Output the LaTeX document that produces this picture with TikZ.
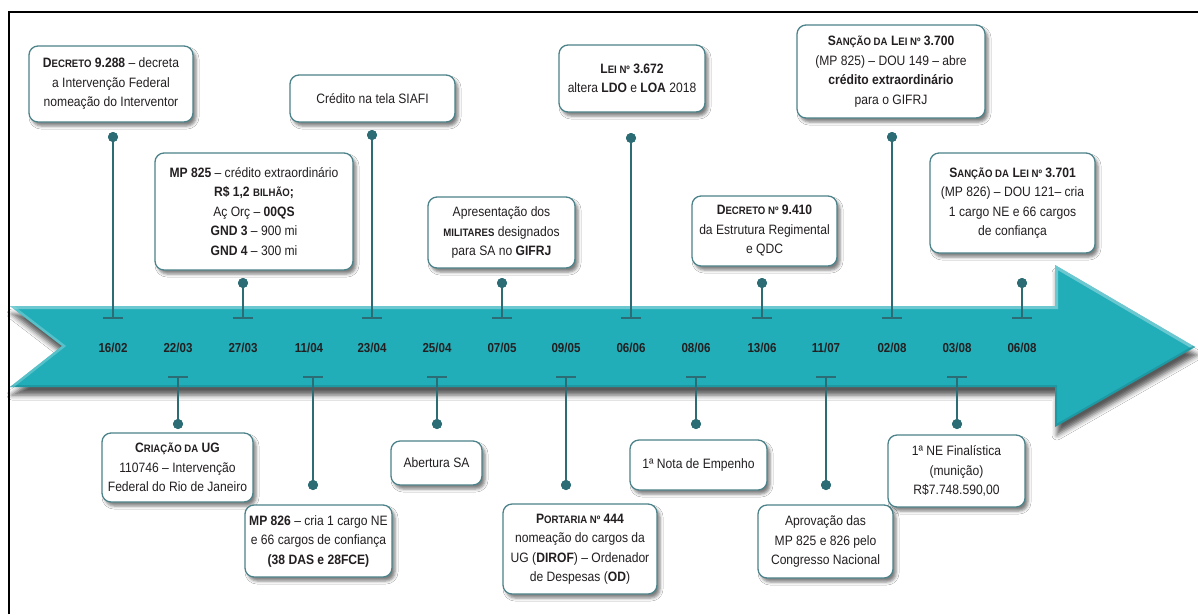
\documentclass[tikz,border=0pt]{standalone}
\usepackage{fontspec}
\setmainfont{Liberation Sans}[FakeStretch=0.89]
\usetikzlibrary{shadows.blur}

\definecolor{band}{RGB}{34,174,185}
\definecolor{bandlight}{RGB}{140,212,218}
\definecolor{banddark}{RGB}{22,128,138}
\definecolor{stemc}{RGB}{44,108,117}
\definecolor{boxline}{RGB}{76,130,137}
\definecolor{ink}{RGB}{35,31,32}

% faked small capitals: first letter full size, the rest reduced
\newcommand\smc[2]{#1{\fontsize{10.8}{12}\selectfont #2}}
\newcommand\boxfont{\fontsize{13.6}{19.5}\selectfont}
\newcommand\datefont{\fontsize{13}{14}\selectfont\bfseries}

\tikzset{
  evbox/.style={draw=boxline, line width=1.3pt, rounded corners=9pt, fill=white,
    align=center, inner sep=2pt, text=ink, font=\boxfont,
    blur shadow={shadow xshift=3pt, shadow yshift=-4pt, shadow blur radius=3pt,
      shadow opacity=50}},
  stemline/.style={draw=stemc, line width=2.4pt},
  tbar/.style={draw=stemc, line width=2.4pt},
  stemdot/.style={circle, fill=stemc, inner sep=0pt, minimum size=10pt},
  datelbl/.style={font=\datefont, text=ink, inner sep=0pt},
}

\begin{document}
\begin{tikzpicture}[x=1pt, y=-1pt]
\useasboundingbox (0,0) rectangle (1198,614);
\fill[white] (0,0) rectangle (1198,614);

% frame lines
\draw[line width=2pt, black] (9,614) -- (9,12) -- (1198,12);

% timeline arrow
\fill[band, blur shadow={shadow xshift=2pt, shadow yshift=-8pt, shadow blur radius=5pt, shadow opacity=65}]
  (10,306) -- (1055,306) -- (1055,265) -- (1195,347) -- (1055,427) -- (1055,387)
  -- (10,387) -- (62,346) -- cycle;
\begin{scope}
  \clip (10,306) -- (1055,306) -- (1055,265) -- (1195,347) -- (1055,427) -- (1055,387)
    -- (10,387) -- (62,346) -- cycle;
  \draw[bandlight, line width=6pt, opacity=0.7] (10,306) -- (1055,306) -- (1055,265) -- (1195,347);
  \draw[banddark, line width=4pt, opacity=0.45] (1195,347) -- (1055,427) -- (1055,387) -- (10,387);
  \draw[bandlight, line width=5pt, opacity=0.5] (10,306) -- (62,346) -- (10,387);
\end{scope}

% dates along the band
\node[datelbl] (d1)  at (113,348) {16/02};
\node[datelbl] (d2)  at (178,348) {22/03};
\node[datelbl] (d3)  at (243,348) {27/03};
\node[datelbl] (d4)  at (309,348) {11/04};
\node[datelbl] (d5)  at (372,348) {23/04};
\node[datelbl] (d6)  at (437,348) {25/04};
\node[datelbl] (d7)  at (502,348) {07/05};
\node[datelbl] (d8)  at (566,348) {09/05};
\node[datelbl] (d9)  at (631,348) {06/06};
\node[datelbl] (d10) at (696,348) {08/06};
\node[datelbl] (d11) at (762,348) {13/06};
\node[datelbl] (d12) at (826,348) {11/07};
\node[datelbl] (d13) at (892,348) {02/08};
\node[datelbl] (d14) at (957,348) {03/08};
\node[datelbl] (d15) at (1022,348) {06/08};

% tick anchors on the band (upper at 318, lower at 377)
\foreach \n/\x/\y in {1/113/318, 3/243/318, 5/372/318, 7/502/318, 9/631/318,
                      11/762/318, 13/892/318, 15/1022/318,
                      2/178/377, 4/313/377, 6/437/377, 8/566/377, 10/696/377,
                      12/826/377, 14/957/377}
  \coordinate (t\n) at (\x,\y);

% stem dots
\node[stemdot] (p1)  at (113,137) {};
\node[stemdot] (p3)  at (243,283) {};
\node[stemdot] (p5)  at (372,135) {};
\node[stemdot] (p7)  at (502,283) {};
\node[stemdot] (p9)  at (631,138) {};
\node[stemdot] (p11) at (762,283) {};
\node[stemdot] (p13) at (892,137) {};
\node[stemdot] (p15) at (1022,283) {};
\node[stemdot] (p2)  at (178,424) {};
\node[stemdot] (p4)  at (313,485) {};
\node[stemdot] (p6)  at (437,424) {};
\node[stemdot] (p8)  at (566,485) {};
\node[stemdot] (p10) at (696,424) {};
\node[stemdot] (p12) at (826,485) {};
\node[stemdot] (p14) at (957,424) {};

% stems with their T bars
\foreach \n in {1,...,15}{
  \draw[stemline] (p\n.center) -- (t\n);
  \draw[tbar] ([xshift=-10pt]t\n) -- ([xshift=10pt]t\n);
}
% redraw dots above stems
\foreach \n/\x/\y in {1/113/137, 3/243/283, 5/372/135, 7/502/283, 9/631/138,
                      11/762/283, 13/892/137, 15/1022/283,
                      2/178/424, 4/313/485, 6/437/424, 8/566/485, 10/696/424,
                      12/826/485, 14/957/424}
  \fill[stemc] (\x,\y) circle (5pt);

% event boxes above the band
\node[evbox, minimum width=164pt, minimum height=76pt] (b1) at (111,84)
  {\textbf{\smc{D}{ECRETO} 9.288} – decreta\\a Intervenção Federal\\nomeação do Interventor};
\node[evbox, minimum width=198pt, minimum height=117pt] (b3) at (254,211.5)
  {\textbf{MP 825} – crédito extraordinário\\\textbf{R\$ 1,2 \smc{}{BILHÃO};}\\Aç Orç – \textbf{00QS}\\\textbf{GND 3} – 900 mi\\\textbf{GND 4} – 300 mi};
\node[evbox, minimum width=165pt, minimum height=47pt] (b5) at (372.5,98.5)
  {Crédito na tela SIAFI};
\node[evbox, minimum width=147pt, minimum height=71pt] (b7) at (501.5,232.5)
  {Apresentação dos\\\textbf{\smc{}{MILITARES}} designados\\para SA no \textbf{GIFRJ}};
\node[evbox, minimum width=146pt, minimum height=67pt] (b9) at (632,78.5)
  {\textbf{\smc{L}{EI Nº} 3.672}\\altera \textbf{LDO} e \textbf{LOA} 2018};
\node[evbox, minimum width=145pt, minimum height=70pt] (b11) at (764.5,231)
  {\textbf{\smc{D}{ECRETO Nº} 9.410}\\da Estrutura Regimental\\e QDC};
\node[evbox, minimum width=188pt, minimum height=93pt] (b13) at (891,71.5)
  {\textbf{\smc{S}{ANÇÃO DA} \smc{L}{EI Nº} 3.700}\\(MP 825) – DOU 149 – abre\\\textbf{crédito extraordinário}\\para o GIFRJ};
\node[evbox, minimum width=165pt, minimum height=100pt] (b15) at (1012.5,203)
  {\textbf{\smc{S}{ANÇÃO DA} \smc{L}{EI Nº} 3.701}\\(MP 826) – DOU 121– cria\\1 cargo NE e 66 cargos\\de confiança};

% event boxes below the band
\node[evbox, minimum width=151pt, minimum height=69pt] (b2) at (177.5,467.5)
  {\textbf{\smc{C}{RIAÇÃO DA} UG}\\110746 – Intervenção\\Federal do Rio de Janeiro};
\node[evbox, minimum width=147pt, minimum height=72pt] (b4) at (318.5,541)
  {\textbf{MP 826} – cria 1 cargo NE\\e 66 cargos de confiança\\\textbf{(38 DAS e 28FCE)}};
\node[evbox, minimum width=91pt, minimum height=44pt] (b6) at (436.5,463)
  {Abertura SA};
\node[evbox, minimum width=154pt, minimum height=90pt] (b8) at (580,549)
  {\textbf{\smc{P}{ORTARIA Nº} 444}\\nomeação do cargos da\\UG (\textbf{DIROF}) – Ordenador\\de Despesas (\textbf{OD})};
\node[evbox, minimum width=137pt, minimum height=50pt] (b10) at (698.5,465)
  {1ª Nota de Empenho};
\node[evbox, minimum width=135pt, minimum height=73pt] (b12) at (825.5,541.5)
  {Aprovação das\\MP 825 e 826 pelo\\Congresso Nacional};
\node[evbox, minimum width=137pt, minimum height=72pt] (b14) at (956.5,471)
  {1ª NE Finalística\\(munição)\\R\$7.748.590,00};
\end{tikzpicture}
\end{document}
